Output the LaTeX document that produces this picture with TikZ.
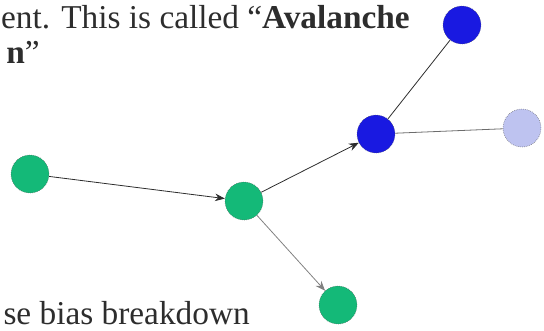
\documentclass[tikz,border=0pt]{standalone}
\usepackage{fontspec}
\setmainfont{Liberation Serif}
\usetikzlibrary{arrows.meta}
\definecolor{jade}{RGB}{20,185,120}
\definecolor{royal}{RGB}{25,25,225}
\definecolor{pale}{RGB}{190,195,240}
\definecolor{ink}{RGB}{45,45,45}
\tikzset{
  >={Stealth[length=2.6mm,width=2mm]},
  particle/.style={circle,draw=ink!80,densely dotted,fill=#1,minimum size=28.5pt,inner sep=0pt},
  particle/.default=jade,
  hit/.style={->,semithick,draw=#1},
  hit/.default=ink,
  bond/.style={semithick,draw=#1},
  bond/.default=ink,
  words/.style={font=\fontsize{25}{30}\selectfont,text=ink,inner sep=0pt}
}
\begin{document}
\begin{tikzpicture}[x=0.75pt,y=-0.75pt]
  \useasboundingbox (0,0) rectangle (544,330);
  \clip (0,0) rectangle (544,330);
  % text fragments
  \node[words,anchor=base east] (t1) at (410,28) {ent. This is called “\textbf{Avalanche}};
  \node[words,anchor=base east] (t2) at (40,63) {\textbf{n}”};
  \node[words,anchor=base east] (t3) at (250,324) {se bias breakdown};
  % carriers
  \node[particle=jade] (g1) at (30,174) {};
  \node[particle=jade] (g2) at (244,201) {};
  \node[particle=jade] (g3) at (338,305) {};
  \node[particle=royal] (b1) at (376,134) {};
  \node[particle=royal] (b2) at (462,25) {};
  \node[particle=pale] (lb) at (522,128) {};
  % collisions
  \draw[hit] (g1) -- (g2);
  \draw[hit] (g2) -- (b1);
  \draw[hit=ink!60] (g2) -- (g3);
  \draw[bond] (b1) -- (b2);
  \draw[bond=ink!70] (b1) -- (lb);
\end{tikzpicture}
\end{document}
